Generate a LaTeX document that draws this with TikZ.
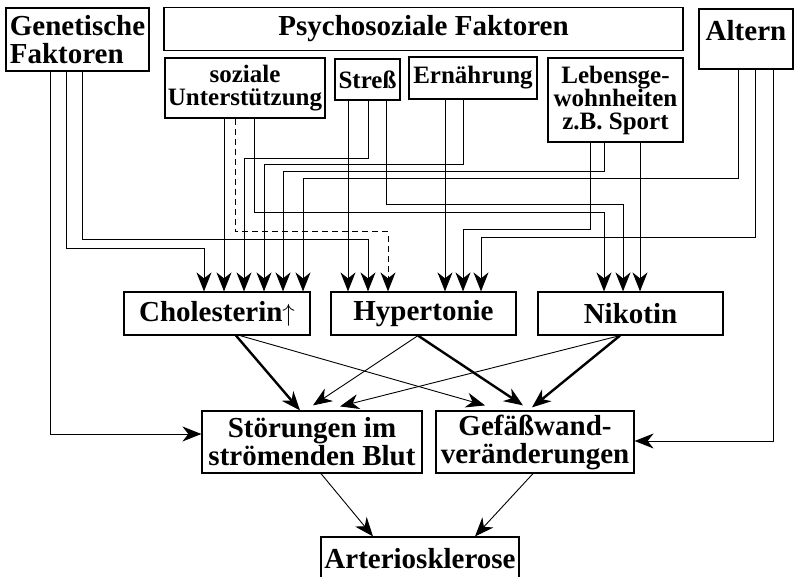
\documentclass[tikz,border=0pt]{standalone}
\usepackage{fontspec}
\setmainfont{Liberation Serif}
\usetikzlibrary{arrows.meta}

\begin{document}
\begin{tikzpicture}[x=1pt,y=-1pt,
    box/.style={draw,line width=1.2pt,inner sep=1pt,align=center,
        font=\bfseries\fontsize{29}{28}\selectfont},
    kbox/.style={box,font=\bfseries\fontsize{25}{23}\selectfont},
    wire/.style={line width=0.9pt,-{Stealth[length=19pt,width=15pt,inset=6pt]}},
    fett/.style={wire,line width=2.4pt}]
    \useasboundingbox (0,0) rectangle (795,577);
    \clip (0,0) rectangle (795,577);

    % 上排：影响因素
    \node[box,minimum width=143pt,minimum height=63pt,align=left] (gen) at (77.5,39.5) {Genetische\\Faktoren};
    \node[box,minimum width=519pt,minimum height=43pt] (psy) at (423.5,29) {Psychosoziale Faktoren};
    \node[box,minimum width=94pt,minimum height=60pt,text depth=17pt] (alt) at (746,39) {Altern};
    \node[kbox,minimum width=160pt,minimum height=60pt] (soz) at (245,88) {soziale\\Unterstützung};
    \node[kbox,minimum width=65pt,minimum height=41pt] (str) at (367.5,79.5) {Streß};
    \node[kbox,minimum width=128pt,minimum height=42pt] (ern) at (473,78) {Ernährung};
    \node[kbox,minimum width=135pt,minimum height=84pt] (leb) at (615.5,100) {Lebensge-\\wohnheiten\\z.B. Sport};

    % 中排：危险因素
    \node[box,minimum width=186pt,minimum height=43pt] (chol) at (217,313.5) {Cholesterin$\uparrow$};
    \node[box,minimum width=185pt,minimum height=43pt] (hyp) at (423.5,313.5) {Hypertonie};
    \node[box,minimum width=185pt,minimum height=43pt] (nik) at (630.5,313.5) {Nikotin};

    % 下排
    \node[box,minimum width=220pt,minimum height=62pt] (stoe) at (312,442) {Störungen im\\strömenden Blut};
    \node[box,minimum width=198pt,minimum height=62pt] (gef) at (535,442) {Gefäßwand-\\veränderungen};
    \node[box,minimum width=198pt,minimum height=44pt] (art) at (420,559) {Arteriosklerose};

    % 遗传因素的连线
    \draw[wire] ([xshift=-11.5pt]gen.south) -- ++(0,177) -| ([xshift=-13pt]chol.north);
    \draw[wire] ([xshift=4.5pt]gen.south) -- ++(0,168) -| ([xshift=-55.5pt]hyp.north);
    \draw[wire] ([xshift=-27.5pt]gen.south) |- ([yshift=8pt]stoe.west);

    % 社会支持
    \draw[wire] ([xshift=-21pt]soz.south) -- ([xshift=7pt]chol.north);
    \draw[wire,dash pattern=on 6pt off 4pt] ([xshift=-10pt]soz.south) -- ++(0,113) -| ([xshift=-35.5pt]hyp.north);
    \draw[wire] ([xshift=9pt]soz.south) -- ++(0,94) -| ([xshift=-26.5pt]nik.north);

    % 压力
    \draw[wire] ([xshift=-19.5pt]str.south) -- ([xshift=-75.5pt]hyp.north);
    \draw[wire] ([xshift=0.5pt]str.south) -- ++(0,58) -| ([xshift=27pt]chol.north);
    \draw[wire] ([xshift=18.5pt]str.south) -- ++(0,104) -| ([xshift=-7.5pt]nik.north);

    % 营养
    \draw[wire] ([xshift=-28pt]ern.south) -- ([xshift=21.5pt]hyp.north);
    \draw[wire] ([xshift=-10pt]ern.south) -- ++(0,65) -| ([xshift=47pt]chol.north);

    % 生活习惯
    \draw[wire] ([xshift=-11.5pt]leb.south) -- ++(0,29) -| ([xshift=66pt]chol.north);
    \draw[wire] ([xshift=-25.5pt]leb.south) -- ++(0,87) -| ([xshift=39.5pt]hyp.north);
    \draw[wire] ([xshift=24.5pt]leb.south) -- ([xshift=9.5pt]nik.north);

    % 年龄
    \draw[wire] ([xshift=-8pt]alt.south) -- ++(0,109) -| ([xshift=86pt]chol.north);
    \draw[wire] ([xshift=9pt]alt.south) -- ++(0,168) -| ([xshift=57.5pt]hyp.north);
    \draw[wire] ([xshift=27pt]alt.south) |- ([yshift=1pt]gef.east);

    % 危险因素 -> 后果
    \draw[fett] ([xshift=19pt]chol.south) -- ([xshift=-12pt]stoe.north);
    \draw[wire] ([xshift=23pt]chol.south) -- ([xshift=-50pt,yshift=5pt]gef.north);
    \draw[wire] ([xshift=-5.5pt]hyp.south) -- ([xshift=1pt,yshift=5pt]stoe.north);
    \draw[fett] ([xshift=-5.5pt]hyp.south) -- ([xshift=-12pt,yshift=5pt]gef.north);
    \draw[wire] ([xshift=-10.5pt]nik.south) -- ([xshift=28pt,yshift=4pt]stoe.north);
    \draw[fett] ([xshift=-10.5pt]nik.south) -- ([xshift=-3pt,yshift=3pt]gef.north);

    % -> Arteriosklerose
    \draw[wire] ([xshift=9pt]stoe.south) -- ([xshift=-47pt]art.north);
    \draw[wire] ([xshift=-2pt]gef.south) -- ([xshift=55pt]art.north);
\end{tikzpicture}
\end{document}
